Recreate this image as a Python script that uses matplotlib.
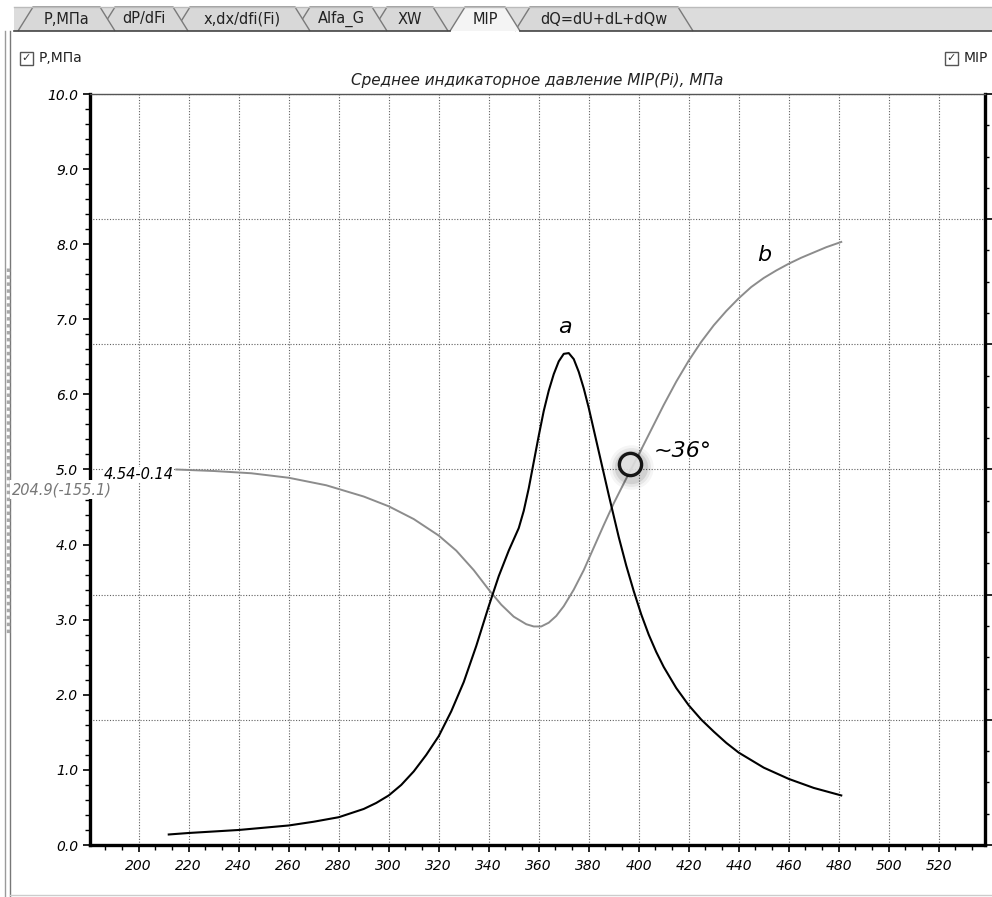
import matplotlib
matplotlib.use("Agg")
from matplotlib import pyplot as plt
from matplotlib.patches import Polygon, Rectangle
from matplotlib.lines import Line2D
from matplotlib.ticker import MultipleLocator, FormatStrFormatter

W, H = 992, 897

# curve a (black) - crank angle, deg / value
angle_a = [212, 220, 230, 240, 250, 260, 270, 280, 290, 295, 300, 305, 310,
           315, 320, 325, 330, 335, 340, 344, 348, 352, 354, 356, 358,
           360, 362, 364, 366, 368, 370, 372, 374, 376, 378, 380, 382, 384,
           386, 388, 390, 392, 395, 398, 401, 404, 407, 410, 415, 420, 425,
           430, 435, 440, 450, 460, 470, 481]
p_a = [0.14, 0.16, 0.18, 0.20, 0.23, 0.26, 0.31, 0.37, 0.48, 0.56, 0.66, 0.80,
       0.98, 1.20, 1.45, 1.78, 2.17, 2.65, 3.18, 3.58, 3.92, 4.22, 4.45,
       4.75, 5.10, 5.45, 5.78, 6.05, 6.27, 6.44, 6.54, 6.55, 6.47, 6.30, 6.08,
       5.82, 5.53, 5.24, 4.95, 4.66, 4.38, 4.10, 3.72, 3.38, 3.07, 2.80, 2.57,
       2.37, 2.09, 1.86, 1.67, 1.51, 1.36, 1.23, 1.03, 0.88, 0.76, 0.66]

# curve b (gray)
angle_b = [215, 230, 245, 260, 275, 290, 300, 310, 320, 327, 334, 340, 345,
           350, 355, 358, 361, 364, 367, 370, 374, 378, 382, 386, 390, 395,
           400, 405, 410, 415, 420, 425, 430, 435, 440, 445, 450, 455, 460,
           465, 470, 475, 481]
p_b = [5.00, 4.98, 4.95, 4.89, 4.79, 4.64, 4.51, 4.34, 4.12, 3.92, 3.66, 3.40,
       3.20, 3.04, 2.94, 2.91, 2.91, 2.96, 3.05, 3.18, 3.40, 3.66, 3.96, 4.26,
       4.55, 4.88, 5.20, 5.53, 5.86, 6.17, 6.45, 6.70, 6.92, 7.11, 7.28, 7.43,
       7.55, 7.65, 7.74, 7.82, 7.89, 7.96, 8.03]

MARK_ANGLE, MARK_P = 396.4, 5.07

tab_names = ["P,МПа", "dP/dFi", "x,dx/dfi(Fi)", "Alfa_G", "XW", "MIP",
             "dQ=dU+dL+dQw"]
tab_edges = [(18, 115), (100, 188), (175, 310), (295, 387), (372, 448),
             (450, 520), (515, 693)]
ACTIVE = 5


def fx(px):
    return px / W


def fy(py):
    return 1 - py / H


fig = plt.figure(figsize=(W / 100, H / 100), dpi=100)
fig.patch.set_facecolor("white")

# ---- window chrome ----
fig.add_artist(Rectangle((fx(14), fy(31)), fx(992) - fx(14), fy(7) - fy(31),
                         transform=fig.transFigure, facecolor="#dcdcdc",
                         edgecolor="none"))
fig.add_artist(Line2D([fx(14), fx(992)], [fy(7), fy(7)], color="#bbbbbb",
                      lw=1, transform=fig.transFigure))
order = [i for i in range(len(tab_names)) if i != ACTIVE][::-1] + [ACTIVE]
for i in order:
    L, R = tab_edges[i]
    pts = [(fx(L), fy(31)), (fx(L + 15), fy(7)), (fx(R - 15), fy(7)),
           (fx(R), fy(31))]
    fc = "#f4f4f4" if i == ACTIVE else "#d8d8d8"
    fig.add_artist(Polygon(pts, closed=False, transform=fig.transFigure,
                           facecolor=fc, edgecolor="#7a7a7a", lw=1))
    fig.text(fx((L + R) / 2), fy(19), tab_names[i], ha="center", va="center",
             fontsize=10.5, color="#222222")
La, Ra = tab_edges[ACTIVE]
for x0, x1 in [(14, La), (Ra, 992)]:
    fig.add_artist(Line2D([fx(x0), fx(x1)], [fy(31), fy(31)], color="#444444",
                          lw=1.2, transform=fig.transFigure))

# panel borders
for xx, cc in [(5, "#9a9a9a"), (10, "#777777")]:
    fig.add_artist(Line2D([fx(xx), fx(xx)], [fy(31), fy(897)], color=cc,
                          lw=1, transform=fig.transFigure))
fig.add_artist(Line2D([fx(7.5), fx(7.5)], [fy(268), fy(633)], color="#a8a8a8",
                      lw=2.5, ls=(0, (1, 1)), transform=fig.transFigure))
fig.add_artist(Line2D([fx(10), fx(992)], [fy(895), fy(895)], color="#cccccc",
                      lw=1, transform=fig.transFigure))

# checkboxes
for bx, label in [(20, "P,МПа"), (945, "MIP")]:
    fig.add_artist(Rectangle((fx(bx), fy(65)), fx(13), 13 / H,
                             transform=fig.transFigure, facecolor="white",
                             edgecolor="#555555", lw=1))
    fig.text(fx(bx + 6.5), fy(58.5), "\u2713", ha="center", va="center",
             fontsize=8, color="#333333")
    fig.text(fx(bx + 19), fy(58.5), label, ha="left", va="center",
             fontsize=10, color="#222222")

# ---- chart ----
ax = fig.add_axes([fx(90), fy(845), fx(985) - fx(90), fy(94) - fy(845)])
ax2 = ax.twinx()
ax.set_zorder(2)
ax.patch.set_visible(False)
ax2.set_zorder(1)
ax2.patch.set_facecolor("white")

ax.set_xlim(180.5, 538.5)
ax.set_ylim(0, 10)
ax2.set_ylim(0, 6)

dot = dict(color="#606060", lw=0.8, ls=(0, (1, 1.5)))
ax.xaxis.set_major_locator(MultipleLocator(20))
ax.xaxis.set_minor_locator(MultipleLocator(20 / 3))
ax.yaxis.set_major_locator(MultipleLocator(1))
ax.yaxis.set_minor_locator(MultipleLocator(0.2))
ax.yaxis.set_major_formatter(FormatStrFormatter("%.1f"))
ax.set_xticks(range(200, 521, 20))
ax.set_axisbelow(True)
ax.grid(True, axis="x", which="major", **dot)

ax2.yaxis.set_major_locator(MultipleLocator(1))
ax2.yaxis.set_minor_locator(MultipleLocator(0.25))
ax2.grid(True, axis="y", which="major", **dot)
ax2.tick_params(axis="y", which="both", labelright=False, direction="out")
ax2.tick_params(axis="y", which="major", length=5, width=1.2)
ax2.tick_params(axis="y", which="minor", length=3, width=1)

for s in ["left", "right", "bottom", "top"]:
    ax2.spines[s].set_visible(False)
ax2.spines["right"].set_visible(True)
ax2.spines["right"].set_linewidth(2.4)
ax.spines["right"].set_visible(False)
ax.spines["left"].set_linewidth(2.4)
ax.spines["bottom"].set_linewidth(2.4)
ax.spines["top"].set_linestyle((0, (1, 1)))
ax.spines["top"].set_linewidth(1)
ax.spines["top"].set_color("#555555")

ax.tick_params(axis="both", which="both", direction="out", labelsize=10)
ax.tick_params(axis="both", which="major", length=5, width=1.2)
ax.tick_params(axis="both", which="minor", length=3.5, width=1)
ax.tick_params(axis="x", pad=5)
for lab in ax.get_xticklabels() + ax.get_yticklabels():
    lab.set_fontstyle("italic")

ax.plot(angle_b, p_b, color="#8c8c8c", lw=1.4, zorder=3)
ax.plot(angle_a, p_a, color="black", lw=1.5, zorder=4)

# marker with soft shadow
for ms, al in [(32, 0.04), (28, 0.06), (24, 0.09)]:
    ax.plot(MARK_ANGLE + 0.5, MARK_P - 0.04, "o", ms=ms, mfc="#000000",
            mec="none", alpha=al, zorder=5)
ax.plot(MARK_ANGLE, MARK_P, "o", ms=16, mfc="#e2e2e2", mec="black", mew=2.4,
        alpha=0.9, zorder=6)

ax.text(370.4, 6.9, "a", fontsize=16, style="italic", ha="center",
        va="center", zorder=7)
ax.text(450.0, 7.85, "b", fontsize=16, style="italic", ha="center",
        va="center", zorder=7)
ax.text(406.0, 5.25, "~36°", fontsize=16, style="italic", ha="left",
        va="center", zorder=7)

ax.text(186.0, 4.93, "4.54-0.14", fontsize=10.5, style="italic", ha="left",
        va="center", zorder=8, clip_on=False,
        bbox=dict(facecolor="white", edgecolor="none", pad=0.5))
ax.text(189.2, 4.73, "204.9(-155.1)", fontsize=10.5, style="italic",
        color="#777777", ha="right", va="center", zorder=8, clip_on=False,
        bbox=dict(facecolor="white", edgecolor="none", pad=1.5))

fig.text(fx(537), fy(80), "Среднее индикаторное давление MIP(Pi), МПа",
         ha="center", va="center", fontsize=11, style="italic",
         color="#222222")

fig.savefig("out.png", dpi=100, facecolor="white")
